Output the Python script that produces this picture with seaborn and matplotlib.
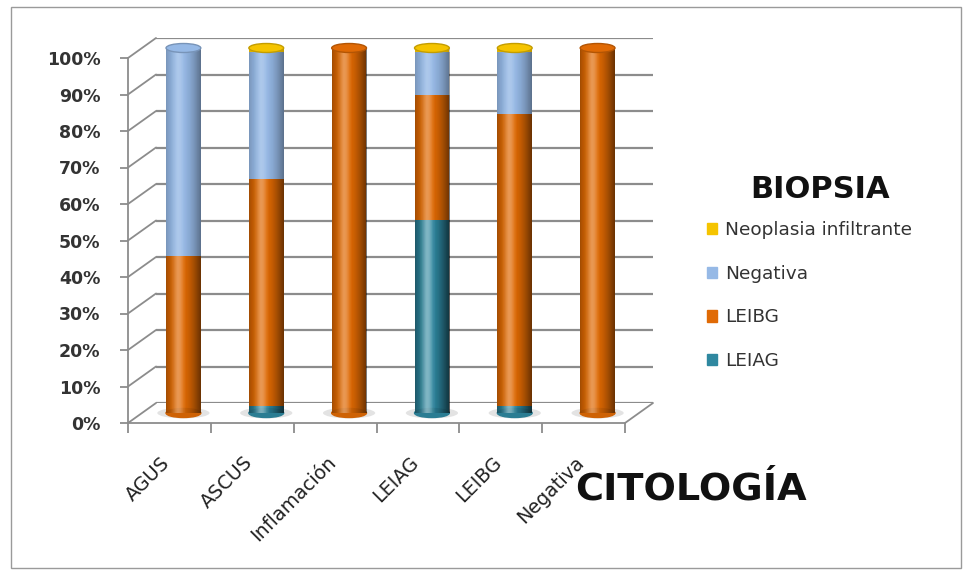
import matplotlib
matplotlib.use("Agg")
import matplotlib.pyplot as plt
import matplotlib.patches as mpatches
import matplotlib.colors as mcolors
from matplotlib.lines import Line2D
from matplotlib.transforms import ScaledTranslation, blended_transform_factory
import numpy as np
import pandas as pd
import seaborn as sns

citologia = ["AGUS", "ASCUS", "Inflamación", "LEIAG", "LEIBG", "Negativa"]
leiag = [0, 2, 0, 53, 2, 0]
leibg = [43, 62, 100, 34, 80, 100]
negativa = [57, 35, 0, 12, 17, 0]
neoplasia = [0, 1, 0, 1, 1, 0]

series = ["LEIAG", "LEIBG", "Negativa", "Neoplasia infiltrante"]
colors = {"LEIAG": "#2f88a0", "LEIBG": "#e06a05",
          "Negativa": "#96b9e6", "Neoplasia infiltrante": "#f5c400"}

df = pd.DataFrame({"cat": citologia, "LEIAG": leiag, "LEIBG": leibg,
                   "Negativa": negativa, "Neoplasia infiltrante": neoplasia})
df[series] = df[series].div(df[series].sum(axis=1), axis=0)
cum = df[series].cumsum(axis=1)

sns.set_style("white")
plt.rcParams["font.family"] = ["DejaVu Sans"]

W, H = 965, 575
fig = plt.figure(figsize=(W / 100, H / 100), dpi=100)

# pseudo 3D: front axis, bars at mid depth, gridlines on the back wall
w, h = 497 / W, 365 / H
front = (128 / W, 1 - 423 / H)
mid = (142 / W, 1 - 413 / H)
back = (156 / W, 1 - 403 / H)

ax_back = fig.add_axes([back[0], back[1], w, h])
ax = fig.add_axes([mid[0], mid[1], w, h])
ax_front = fig.add_axes([front[0], front[1], w, h])
yt = [i / 10 for i in range(11)]

for a in (ax_back, ax, ax_front):
    a.set_xlim(-0.5, 5.5)
    a.set_ylim(0, 1)
    a.patch.set_alpha(0)
    for s in a.spines.values():
        s.set_visible(False)

ax_back.set_xticks([])
ax_back.set_yticks([])
for v in yt:
    ax_back.axhline(v, color="#8c8c8c", linewidth=1.6, zorder=0)

bw = 0.42
for s in reversed(series):
    sns.barplot(x=df["cat"], y=cum[s], color=colors[s], width=bw,
                saturation=1, ax=ax, zorder=3, edgecolor="none")
ax.set_xticks([])
ax.set_yticks([])
ax.set_xlabel("")
ax.set_ylabel("")

# cylinder shading
t = np.linspace(0, 1, 60)
shade = np.zeros((1, 60, 4))
shade[0, :, 3] = np.clip(np.abs(t - 0.4) / 0.6, 0, 1) ** 2 * 0.22
hl = np.zeros((1, 60, 4))
hl[0, :, :3] = 1
hl[0, :, 3] = np.exp(-((t - 0.35) / 0.14) ** 2) * 0.12
cap_h = 9 / 365
for p in list(ax.patches):
    x0, y0 = p.get_x(), p.get_y()
    pw, ph = p.get_width(), p.get_height()
    for img in (shade, hl):
        im = ax.imshow(img, extent=[x0, x0 + pw, y0, y0 + ph], aspect="auto",
                       zorder=4, interpolation="bilinear")
        im.set_clip_path(p)


def darker(c, f=0.8):
    r, g, b = mcolors.to_rgb(c)
    return (r * f, g * f, b * f)


for i in range(len(citologia)):
    vals = [df.loc[i, s] for s in series]
    nz = [s for s, v in zip(series, vals) if v > 0]
    ax.add_patch(mpatches.Ellipse((i, 0), bw * 1.5, cap_h * 1.2,
                                  color="#c8c8c8", alpha=0.5, zorder=2,
                                  clip_on=False, linewidth=0))
    ax.add_patch(mpatches.Ellipse((i, 0), bw, cap_h, color=darker(colors[nz[0]], 0.92),
                                  zorder=3, clip_on=False))
    ax.add_patch(mpatches.Ellipse((i, cum.loc[i, series[-1]]), bw, cap_h,
                                  facecolor=colors[nz[-1]],
                                  edgecolor=darker(colors[nz[-1]]),
                                  linewidth=1, zorder=5, clip_on=False))
ax.set_xlim(-0.5, 5.5)
ax.set_ylim(0, 1)

ax_front.spines["left"].set_visible(True)
ax_front.spines["bottom"].set_visible(True)
ax_front.spines["left"].set_color("#8c8c8c")
ax_front.spines["bottom"].set_color("#8c8c8c")
ax_front.spines["left"].set_linewidth(1.3)
ax_front.spines["bottom"].set_linewidth(1.3)
ax_front.set_yticks(yt)
ax_front.set_yticklabels([f"{i * 10}%" for i in range(11)], fontsize=12.5,
                         fontweight="bold", color="#333333")
ax_front.set_xticks([i - 0.5 for i in range(7)])
ax_front.set_xticklabels([])
ax_front.tick_params(axis="x", length=7, color="#8c8c8c", width=1.3, bottom=True)
ax_front.tick_params(axis="y", length=6, color="#8c8c8c", width=1.3,
                     left=True, pad=14)

# category labels, rotated, anchored at their top right corner
lab_tr = blended_transform_factory(ax_front.transData, ax_front.transAxes) + \
    ScaledTranslation(-0.09, -0.30, fig.dpi_scale_trans)
for i, c in enumerate(citologia):
    ax_front.text(i, 0, c, transform=lab_tr, rotation=45, ha="right", va="top",
                  rotation_mode="anchor", fontsize=13.8, color="#222222")

# side wall and floor edges
for v in yt:
    fig.add_artist(Line2D([front[0], back[0]], [front[1] + v * h, back[1] + v * h],
                          transform=fig.transFigure, color="#8c8c8c", linewidth=1.3))
fig.add_artist(Line2D([front[0] + w, back[0] + w], [front[1], back[1]],
                      transform=fig.transFigure, color="#8c8c8c", linewidth=1.3))

handles = [mpatches.Patch(color=colors[s], label=s) for s in reversed(series)]
fig.legend(handles=handles, loc="upper left", bbox_to_anchor=(0.715, 0.645),
           frameon=False, fontsize=13.3, handlelength=0.55, handleheight=0.55,
           handletextpad=0.45, labelspacing=1.4, labelcolor="#333333")
fig.text(0.85, 0.67, "BIOPSIA", fontsize=22, fontweight="bold",
         ha="center", va="center", color="#111111")
fig.text(0.716, 0.148, "CITOLOGÍA", fontsize=27.5, fontweight="bold",
         ha="center", va="center", color="#111111")

fig.add_artist(mpatches.Rectangle((0.011, 0.012), 0.985, 0.975,
                                  transform=fig.transFigure, fill=False,
                                  edgecolor="#9a9a9a", linewidth=1))

fig.savefig("out.png", dpi=100)
